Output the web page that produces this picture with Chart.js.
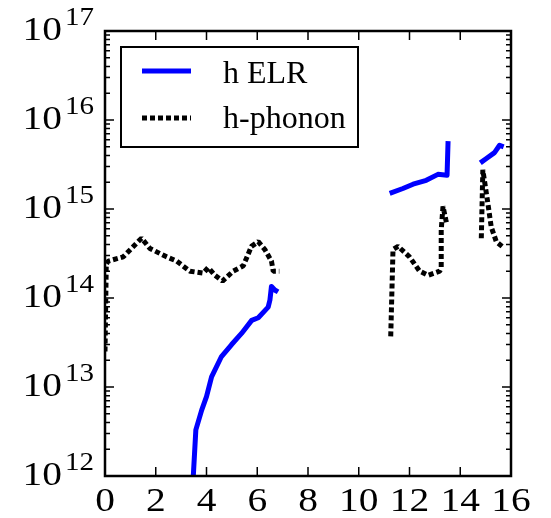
<!DOCTYPE html>
<html>
<head>
<meta charset="utf-8">
<script src="https://cdn.jsdelivr.net/npm/chart.js@4/dist/chart.umd.min.js"></script>
<style>
  html, body { margin: 0; padding: 0; background: #fff; }
  #wrap { width: 551px; height: 518px; }
</style>
</head>
<body>
<div id="wrap"><canvas id="chart" width="551" height="518"></canvas></div>
<script>
// h ELR, three pieces
const elrX1 = [3.48, 3.58, 3.81, 4.0, 4.2, 4.59, 4.99, 5.38, 5.78, 6.04, 6.43, 6.50, 6.56, 6.69, 6.82];
const elrY1 = [1.0e12, 3.3e12, 5.5e12, 7.8e12, 1.3e13, 2.2e13, 3.0e13, 4.0e13, 5.6e13, 6.0e13, 7.9e13, 9.5e13, 1.35e14, 1.23e14, 1.17e14];
const elrX2 = [11.22, 11.74, 12.14, 12.66, 13.12, 13.48, 13.52];
const elrY2 = [1.5e15, 1.7e15, 1.9e15, 2.1e15, 2.45e15, 2.4e15, 5.8e15];
const elrX3 = [14.79, 15.03, 15.35, 15.55, 15.71];
const elrY3 = [3.3e15, 3.7e15, 4.3e15, 5.2e15, 5.0e15];

// h-phonon, three pieces
const phonX1 = [0, 0.05, 0.13, 0.72, 1.44, 1.77, 2.43, 2.82, 3.35, 3.87, 4.07, 4.33, 4.63, 5.05, 5.45, 5.77, 6.04, 6.30, 6.56, 6.63, 6.87];
const phonY1 = [2.5e13, 2.4e14, 2.6e14, 2.9e14, 4.7e14, 3.6e14, 2.9e14, 2.6e14, 2.0e14, 1.9e14, 2.2e14, 1.8e14, 1.55e14, 2.0e14, 2.3e14, 3.8e14, 4.3e14, 3.5e14, 2.6e14, 2.0e14, 2.0e14];
const phonX2 = [11.26, 11.35, 11.55, 12.0, 12.40, 12.73, 13.19, 13.25, 13.25, 13.32, 13.43, 13.48];
const phonY2 = [3.7e13, 3.5e14, 3.8e14, 2.9e14, 2.0e14, 1.8e14, 2.0e14, 2.2e14, 5.8e14, 1.07e15, 7.6e14, 6.6e14];
const phonX3 = [14.83, 14.89, 15.09, 15.22, 15.42, 15.65];
const phonY3 = [4.7e14, 2.75e15, 1.15e15, 6.3e14, 4.3e14, 3.8e14];

const xTicks = [0, 2, 4, 6, 8, 10, 12, 14, 16];
const yExps = [12, 13, 14, 15, 16, 17];
const legendLabels = ['h ELR', 'h-phonon'];

const BLUE = 'rgb(0,0,255)';
const DOT = [5, 3];
const FONT = '"Liberation Serif", "DejaVu Serif", serif';
const STRETCH = 1.16; // tick labels in the reference are a bit wide

function pts(xs, ys) {
    return xs.map((x, i) => ({ x: x, y: ys[i] }));
}

function elrSet(xs, ys) {
    return { data: pts(xs, ys), borderColor: BLUE, borderWidth: 5, pointRadius: 0,
             borderJoinStyle: 'round', tension: 0 };
}
function phonSet(xs, ys) {
    return { data: pts(xs, ys), borderColor: '#000', borderWidth: 5, borderDash: DOT,
             borderJoinStyle: 'bevel', pointRadius: 0, tension: 0 };
}

// text with horizontal stretch; align is 'left' | 'center' | 'right'
function wideText(ctx, txt, x, y, align) {
    const w = ctx.measureText(txt).width * STRETCH;
    let left = x;
    if (align === 'center') left = x - w / 2;
    if (align === 'right') left = x - w;
    ctx.save();
    ctx.textAlign = 'left';
    ctx.translate(left, y);
    ctx.scale(STRETCH, 1);
    ctx.fillText(txt, 0, 0);
    ctx.restore();
    return w;
}

const frame = {
    id: 'frame',
    afterDraw(chart) {
        const ctx = chart.ctx;
        const a = chart.chartArea;
        const xs = chart.scales.x, ys = chart.scales.y;
        ctx.save();
        ctx.strokeStyle = '#000';

        // ticks, inward
        ctx.lineWidth = 1.5;
        xTicks.forEach(t => {
            const px = xs.getPixelForValue(t);
            ctx.beginPath();
            ctx.moveTo(px, a.bottom); ctx.lineTo(px, a.bottom - 9);
            ctx.moveTo(px, a.top); ctx.lineTo(px, a.top + 9);
            ctx.stroke();
        });
        yExps.forEach(e => {
            const py = ys.getPixelForValue(Math.pow(10, e));
            ctx.beginPath();
            ctx.moveTo(a.left, py); ctx.lineTo(a.left + 9, py);
            ctx.moveTo(a.right, py); ctx.lineTo(a.right - 9, py);
            ctx.stroke();
            if (e < 17) {
                for (let m = 2; m <= 9; m++) {
                    const pm = ys.getPixelForValue(m * Math.pow(10, e));
                    ctx.beginPath();
                    ctx.moveTo(a.left, pm); ctx.lineTo(a.left + 5, pm);
                    ctx.moveTo(a.right, pm); ctx.lineTo(a.right - 5, pm);
                    ctx.stroke();
                }
            }
        });

        // frame
        ctx.lineWidth = 2.5;
        ctx.strokeRect(a.left, a.top, a.right - a.left, a.bottom - a.top);

        // tick labels
        ctx.fillStyle = '#000';
        ctx.textBaseline = 'alphabetic';
        ctx.font = '34px ' + FONT;
        xTicks.forEach(t => {
            wideText(ctx, String(t), xs.getPixelForValue(t), a.bottom + 35, 'center');
        });
        yExps.forEach(e => {
            const py = ys.getPixelForValue(Math.pow(10, e));
            ctx.font = '25px ' + FONT;
            const sw = wideText(ctx, String(e), a.left - 11, py - 6, 'right');
            ctx.font = '34px ' + FONT;
            wideText(ctx, '10', a.left - 11 - sw - 3, py + 9, 'right');
        });

        // legend
        ctx.lineWidth = 2;
        ctx.strokeRect(121, 47, 237, 100);
        ctx.lineWidth = 5;
        ctx.strokeStyle = BLUE;
        ctx.beginPath(); ctx.moveTo(142, 71); ctx.lineTo(191, 71); ctx.stroke();
        ctx.strokeStyle = '#000';
        ctx.setLineDash(DOT);
        ctx.beginPath(); ctx.moveTo(142, 118); ctx.lineTo(191, 118); ctx.stroke();
        ctx.setLineDash([]);
        ctx.font = '32px ' + FONT;
        ctx.textAlign = 'left';
        ctx.fillText(legendLabels[0], 223, 83);
        ctx.fillText(legendLabels[1], 223, 128);
        ctx.restore();
    }
};

new Chart(document.getElementById('chart').getContext('2d'), {
    type: 'line',
    data: {
        datasets: [
            elrSet(elrX1, elrY1), elrSet(elrX2, elrY2), elrSet(elrX3, elrY3),
            phonSet(phonX1, phonY1), phonSet(phonX2, phonY2), phonSet(phonX3, phonY3)
        ]
    },
    options: {
        responsive: false,
        animation: false,
        layout: { padding: { left: 105, top: 31, right: 40, bottom: 42 } },
        plugins: { legend: { display: false }, tooltip: { enabled: false } },
        scales: {
            x: { type: 'linear', min: 0, max: 16, display: false },
            y: { type: 'logarithmic', min: 1e12, max: 1e17, display: false }
        }
    },
    plugins: [frame]
});
</script>
</body>
</html>
